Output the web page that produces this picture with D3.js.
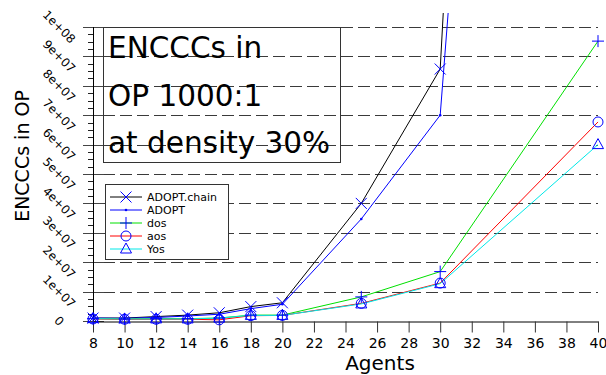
<!DOCTYPE html>
<html>
<head>
<meta charset="utf-8">
<script src="https://cdn.jsdelivr.net/npm/d3@7/dist/d3.min.js"></script>
<style>
  body { margin: 0; background: #fff; }
  text { font-family: "DejaVu Sans", sans-serif; }
</style>
</head>
<body>
<svg id="chart" width="606" height="375"></svg>
<script>
// values
const agents = [8, 10, 12, 14, 16, 18, 20, 25, 30, 40];
const adoptChain = [1.0e6, 1.0e6, 1.5e6, 2.0e6, 2.8e6, 4.9e6, 6.2e6, 4.0e7, 8.57e7, 1.07e9];
const adopt = [1.0e6, 0.9e6, 1.2e6, 1.7e6, 2.3e6, 4.2e6, 5.7e6, 3.47e7, 7.0e7, 7.6e8];
const dos = [0.8e6, 0.7e6, 0.8e6, 0.8e6, 1.0e6, 2.0e6, 2.0e6, 8.2e6, 1.68e7, 9.52e7];
const aos = [0.7e6, 0.6e6, 0.6e6, 0.6e6, 0.4e6, 1.8e6, 1.9e6, 6.0e6, 1.29e7, 6.77e7];
const yos = [0.8e6, 0.7e6, 0.7e6, 0.7e6, 1.0e6, 1.9e6, 1.9e6, 5.8e6, 1.27e7, 6.0e7];

const xTickValues = [8, 10, 12, 14, 16, 18, 20, 22, 24, 26, 28, 30, 32, 34, 36, 38, 40];
const yTickValues = [0, 1e7, 2e7, 3e7, 4e7, 5e7, 6e7, 7e7, 8e7, 9e7, 1e8];
const yTickLabels = ["0", "1e+07", "2e+07", "3e+07", "4e+07", "5e+07", "6e+07", "7e+07", "8e+07", "9e+07", "1e+08"];
const titleLines = ["ENCCCs in", "OP 1000:1", "at density 30%"];

const series = [
  { name: "ADOPT.chain", values: adoptChain, color: "#000000", marker: "x" },
  { name: "ADOPT", values: adopt, color: "#0000ff", marker: "dot" },
  { name: "dos", values: dos, color: "#00e000", marker: "plus" },
  { name: "aos", values: aos, color: "#ff0000", marker: "circle" },
  { name: "Yos", values: yos, color: "#00e8e8", marker: "triangle" }
];

const markerBlue = "#0000ff";
const svg = d3.select("#chart");

const x = d3.scaleLinear().domain([8, 40]).range([93, 598]);
const y = d3.scaleLinear().domain([0, 1e8]).range([321, 27]);

// dashed grid
svg.append("g")
  .selectAll("line")
  .data(yTickValues.slice(1))
  .enter().append("line")
  .attr("x1", 103).attr("x2", 598)
  .attr("y1", d => Math.round(y(d)) + 0.5)
  .attr("y2", d => Math.round(y(d)) + 0.5)
  .attr("stroke", "#3a3a3a")
  .attr("stroke-dasharray", "12,5");

// y axis: minor ticks, major ticks, labels
const yAxis = svg.append("g");
const minor = d3.range(0, 1e8 + 1, 2.5e6).filter(v => v % 1e7 !== 0);
yAxis.selectAll("line.minor")
  .data(minor)
  .enter().append("line")
  .attr("x1", 88).attr("x2", 93)
  .attr("y1", d => Math.round(y(d)) + 0.5)
  .attr("y2", d => Math.round(y(d)) + 0.5)
  .attr("stroke", "#222");
yAxis.selectAll("line.major")
  .data(yTickValues)
  .enter().append("line")
  .attr("x1", 83).attr("x2", 104)
  .attr("y1", d => Math.round(y(d)) + 0.5)
  .attr("y2", d => Math.round(y(d)) + 0.5)
  .attr("stroke", "#444");
yAxis.append("line")
  .attr("x1", 93.5).attr("x2", 93.5)
  .attr("y1", y(1e8)).attr("y2", y(0))
  .attr("stroke", "#000");
yAxis.selectAll("text")
  .data(yTickValues)
  .enter().append("text")
  .attr("transform", d => `translate(59,${y(d)}) rotate(45)`)
  .attr("text-anchor", "middle")
  .attr("dominant-baseline", "central")
  .attr("font-size", 12)
  .text((d, i) => yTickLabels[i]);

// x axis
const xAxis = d3.axisBottom(x)
  .tickValues(xTickValues)
  .tickSize(11)
  .tickSizeOuter(0)
  .tickPadding(6);
const gx = svg.append("g")
  .attr("transform", "translate(0,321.5)")
  .call(xAxis);
gx.select(".domain").attr("stroke", "#000");
gx.selectAll(".tick line").attr("stroke", "#333");
gx.selectAll(".tick text")
  .attr("font-size", 14)
  .attr("font-family", "DejaVu Sans")
  .attr("fill", "#000");

svg.append("text")
  .attr("x", 380).attr("y", 370)
  .attr("text-anchor", "middle")
  .attr("font-size", 20)
  .text("Agents");

svg.append("text")
  .attr("transform", "translate(29,156) rotate(-90)")
  .attr("text-anchor", "middle")
  .attr("font-size", 19)
  .text("ENCCCs in OP");

// lines and markers
svg.append("clipPath").attr("id", "plotclip")
  .append("rect").attr("x", 80).attr("y", 13).attr("width", 530).attr("height", 320);
const plot = svg.append("g").attr("clip-path", "url(#plotclip)");

const line = d3.line()
  .x((d, i) => x(agents[i]))
  .y(d => y(d));

function drawMarker(g, type) {
  if (type === "x") {
    g.append("path").attr("d", "M-5.5,-5.5L5.5,5.5M-5.5,5.5L5.5,-5.5")
      .attr("stroke", markerBlue).attr("fill", "none");
  } else if (type === "plus") {
    g.append("path").attr("d", "M-6,0H6M0,-6V6")
      .attr("stroke", markerBlue).attr("fill", "none");
  } else if (type === "circle") {
    g.append("circle").attr("r", 5)
      .attr("stroke", markerBlue).attr("fill", "none");
  } else if (type === "triangle") {
    g.append("path").attr("d", "M0,-6L5.5,4L-5.5,4Z")
      .attr("stroke", markerBlue).attr("fill", "none");
  } else {
    g.append("circle").attr("r", 1.3).attr("fill", markerBlue);
  }
}

series.forEach(s => {
  plot.append("path")
    .datum(s.values)
    .attr("d", line)
    .attr("fill", "none")
    .attr("stroke", s.color)
    .attr("stroke-width", 1);
});
series.forEach(s => {
  s.values.forEach((v, i) => {
    if (v > 1e8) return;
    const g = plot.append("g")
      .attr("transform", `translate(${x(agents[i])},${y(v)})`);
    drawMarker(g, s.marker);
  });
});

// title box
const title = svg.append("g");
title.append("rect")
  .attr("x", 103.5).attr("y", 27.5).attr("width", 237).attr("height", 135)
  .attr("fill", "none").attr("stroke", "#333");
title.selectAll("text")
  .data(titleLines)
  .enter().append("text")
  .attr("x", 108)
  .attr("y", (d, i) => 58 + i * 47.5)
  .attr("font-size", 29.5)
  .text(d => d);

// legend
const legend = svg.append("g");
legend.append("rect")
  .attr("x", 105.5).attr("y", 184.5).attr("width", 123).attr("height", 75)
  .attr("fill", "#fff").attr("stroke", "#333");
series.forEach((s, i) => {
  const ly = 197 + i * 13;
  legend.append("line")
    .attr("x1", 110).attr("x2", 142)
    .attr("y1", ly).attr("y2", ly)
    .attr("stroke", s.color);
  drawMarker(legend.append("g").attr("transform", `translate(126,${ly})`), s.marker);
  legend.append("text")
    .attr("x", 147).attr("y", ly)
    .attr("dominant-baseline", "central")
    .attr("font-size", 11)
    .text(s.name);
});
</script>
</body>
</html>
